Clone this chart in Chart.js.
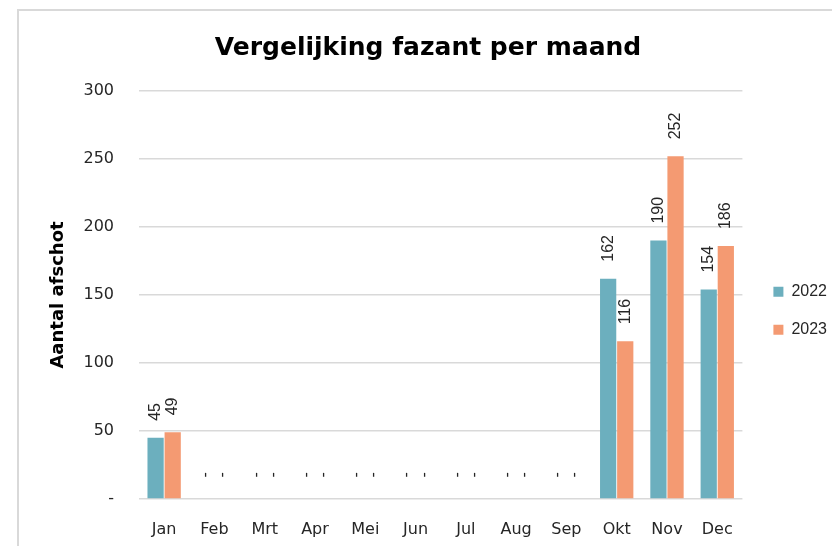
<!DOCTYPE html>
<html>
<head>
<meta charset="utf-8">
<script src="https://cdn.jsdelivr.net/npm/chart.js@4.4.1/dist/chart.umd.min.js"></script>
<style>
  html, body { margin: 0; padding: 0; background: #fff; overflow: hidden; }
  #kader {
    position: absolute; left: 17px; top: 9px;
    width: 840px; height: 560px;
    border-left: 2px solid #d9d9d9; border-top: 2px solid #d9d9d9;
  }
  #grafiek { position: absolute; left: 0; top: 0; }
</style>
</head>
<body>
<div id="kader"><canvas id="grafiek" width="832" height="535"></canvas></div>
<script>
// Gegevens afschot fazant
const maanden = ['Jan', 'Feb', 'Mrt', 'Apr', 'Mei', 'Jun', 'Jul', 'Aug', 'Sep', 'Okt', 'Nov', 'Dec'];
const jaren = ['2022', '2023'];
const afschot2022 = [45, 0, 0, 0, 0, 0, 0, 0, 0, 162, 190, 154];
const afschot2023 = [49, 0, 0, 0, 0, 0, 0, 0, 0, 116, 252, 186];
const yTicks = [0, 50, 100, 150, 200, 250, 300];

const kleuren = ['#6cafbe', '#f49a72'];
const hoofdFont = "'DejaVu Sans', 'Open Sans', sans-serif";
const labelFont = "'Liberation Sans', Arial, sans-serif";

// Waarden boven de staven, gedraaid
const waardeLabels = {
    id: 'waardeLabels',
    afterDatasetsDraw(chart) {
        const ctx = chart.ctx;
        ctx.save();
        ctx.font = '16px ' + labelFont;
        ctx.fillStyle = '#262626';
        chart.data.datasets.forEach((ds, i) => {
            chart.getDatasetMeta(i).data.forEach((bar, j) => {
                const v = ds.data[j];
                const tekst = v === 0 ? ' - ' : String(v);
                ctx.save();
                ctx.translate(bar.x, bar.y - 17);
                ctx.rotate(-Math.PI / 2);
                ctx.textAlign = 'left';
                ctx.textBaseline = 'middle';
                ctx.fillText(tekst, 0, 0);
                ctx.restore();
            });
        });
        ctx.restore();
    }
};

new Chart(document.getElementById('grafiek').getContext('2d'), {
    type: 'bar',
    data: {
        labels: maanden,
        datasets: [
            { label: jaren[0], data: afschot2022, backgroundColor: kleuren[0] },
            { label: jaren[1], data: afschot2023, backgroundColor: kleuren[1] }
        ]
    },
    options: {
        responsive: false,
        animation: false,
        layout: { padding: { left: 0, right: 14, top: 0, bottom: 0 } },
        datasets: { bar: { categoryPercentage: 0.68, barPercentage: 0.95 } },
        scales: {
            x: {
                grid: { display: false },
                border: { display: false },
                ticks: { font: { family: hoofdFont, size: 16 }, color: '#262626', padding: 13, maxRotation: 0 },
                afterFit: s => { s.height = 47; }
            },
            y: {
                min: 0,
                max: 300,
                afterBuildTicks: s => { s.ticks = yTicks.map(v => ({ value: v })); },
                grid: { color: '#d9d9d9', lineWidth: 1.5, drawTicks: false },
                border: { display: false },
                ticks: {
                    font: { family: hoofdFont, size: 16 }, color: '#262626', padding: 25,
                    callback: v => v === 0 ? '-' : v
                },
                title: {
                    display: true,
                    text: 'Aantal afschot',
                    font: { family: hoofdFont, size: 18, weight: 'bold' },
                    color: '#000',
                    padding: { top: 29, bottom: 0 }
                },
                afterFit: s => { s.width = 120; }
            },
            ruimte: {
                position: 'right',
                display: true,
                grid: { display: false },
                border: { display: false },
                ticks: { display: false },
                afterFit: s => { s.width = 9; }
            }
        },
        plugins: {
            title: {
                display: true,
                text: 'Vergelijking fazant per maand',
                font: { family: hoofdFont, size: 25, weight: 'bold' },
                color: '#000',
                padding: { top: 22, bottom: 28 }
            },
            legend: {
                position: 'right',
                title: { display: true, text: '', padding: { top: 50, bottom: 0 } },
                labels: {
                    boxWidth: 10,
                    boxHeight: 10,
                    padding: 22,
                    color: '#262626',
                    font: { family: labelFont, size: 16 }
                }
            },
            tooltip: { enabled: false }
        }
    },
    plugins: [waardeLabels]
});
</script>
</body>
</html>
